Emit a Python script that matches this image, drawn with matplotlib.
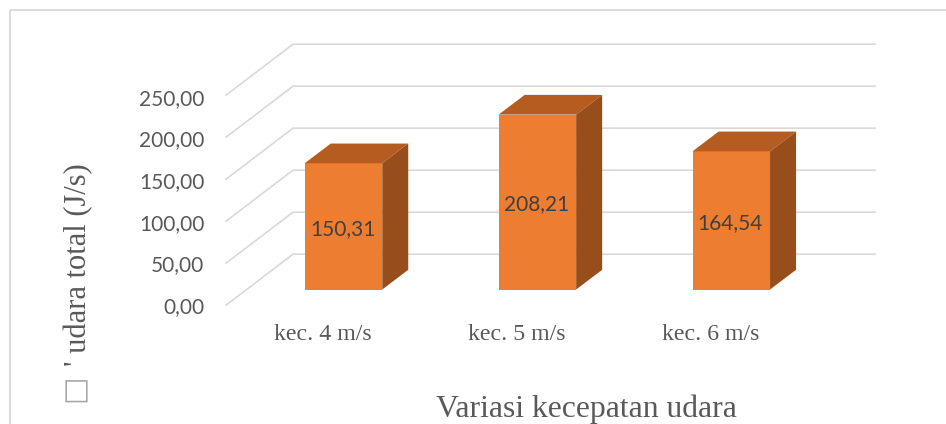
import matplotlib
matplotlib.use("Agg")
import matplotlib.pyplot as plt
from matplotlib.patches import Polygon

categories = ["kec. 4 m/s", "kec. 5 m/s", "kec. 6 m/s"]
values = [150.31, 208.21, 164.54]
y_ticks = [0, 50, 100, 150, 200, 250]

W, H = 946, 424
# scale of the value axis: pixels for one category step / one J/s
PX_X = 193.9
PX_Y = 0.84
X0_PX = 343.5
Y0_PX = 289.5

GRID = "#d9d9d9"
TEXT = "#595959"
FRONT = "#ed7d31"
TOP = "#b55d20"
SIDE = "#974e1a"


def comma(v):
    return f"{v:.2f}".replace(".", ",")


def px_x(p):
    return (p - X0_PX) / PX_X


def px_y(p):
    return (Y0_PX - p) / PX_Y


fig = plt.figure(figsize=(W / 100, H / 100), dpi=100)
ax = fig.add_axes([0, 0, 1, 1])
ax.set_xlim(px_x(0), px_x(W))
ax.set_ylim(px_y(H), px_y(0))
ax.axis("off")

# pseudo 3D offsets, all in data units
bar_w = 77.5 / PX_X
bar_dx = 26 / PX_X
bar_dy = 19.7 / PX_Y
wall_y = 35.3 / PX_Y
floor_y = -15.7 / PX_Y

# gridlines on the back wall and the left side wall
for t in y_ticks:
    ax.plot([px_x(226), px_x(293), px_x(875)],
            [t + floor_y, t + wall_y, t + wall_y],
            color=GRID, lw=1.2, zorder=1, solid_joinstyle="miter")
    # tick labels are spaced a little tighter than the gridlines
    ax.text(px_x(204.5), t * 0.99 + floor_y - 2, comma(t), ha="right", va="center",
            family="Lato", fontsize=15, color=TEXT)

# columns: front from bar(), top and side faces added as polygons
xs = list(range(len(values)))
ax.bar(xs, values, width=bar_w, color=FRONT, zorder=3, linewidth=0)
for x, v in zip(xs, values):
    l = x - bar_w / 2
    r = x + bar_w / 2
    ax.add_patch(Polygon([(l, v), (r, v), (r + bar_dx, v + bar_dy), (l + bar_dx, v + bar_dy)],
                         closed=True, facecolor=TOP, edgecolor="none", zorder=3))
    ax.add_patch(Polygon([(r, 0), (r + bar_dx, bar_dy), (r + bar_dx, v + bar_dy), (r, v)],
                         closed=True, facecolor=SIDE, edgecolor="none", zorder=3))
    ax.text(x - 1 / PX_X, v / 2 - 3, comma(v), ha="center", va="center",
            family="Lato", fontsize=15, color="#404040", zorder=4)

# category labels sit left of the columns, as the floor is skewed
for x, name in zip(xs, categories):
    ax.text(x - 20.5 / PX_X, px_y(334.5), name, ha="center", va="center",
            family="Liberation Serif", fontsize=17.2, color=TEXT)

ax.text(px_x(586), px_y(409), "Variasi kecepatan udara",
        ha="center", va="center", family="Liberation Serif", fontsize=22.8, color=TEXT)

# y title: the symbol before the apostrophe is a separate, paler glyph
ax.text(px_x(79), px_y(366), "' udara total (J/s)",
        ha="center", va="bottom", rotation=90,
        family="Liberation Serif", fontsize=22, color=TEXT)
ax.text(px_x(75), px_y(388.5), "\u25a1", ha="center", va="center", rotation=90,
        family="DejaVu Sans", fontsize=21, color="#a6a6a6")

# chart border, cut by the right and bottom edges of the image
ax.plot([10 / W, 10 / W, 1], [0, 1 - 10 / H, 1 - 10 / H],
        transform=ax.transAxes, color=GRID, lw=1.3, clip_on=False)

fig.savefig("out.png", dpi=100, facecolor="white")
